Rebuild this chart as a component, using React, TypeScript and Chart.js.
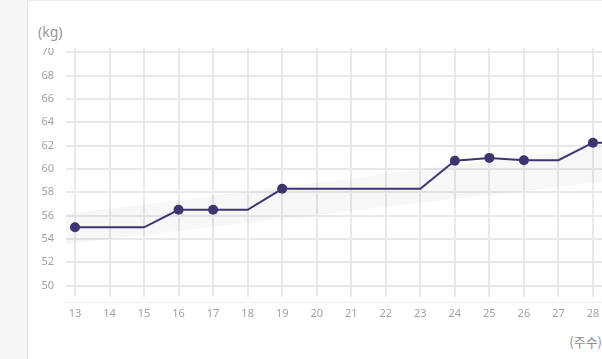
import { useEffect, useRef } from "react";
import { Chart, registerables } from "chart.js";

Chart.register(...registerables);

// Weekly weight record (kg); weeks without a measurement carry the last value forward
const weeks = [13, 14, 15, 16, 17, 18, 19, 20, 21, 22, 23, 24, 25, 26, 27, 28, 29];
const weights = [55.0, 55.0, 55.0, 56.5, 56.5, 56.5, 58.3, 58.3, 58.3, 58.3, 58.3, 60.7, 60.95, 60.75, 60.75, 62.25, 62.25];
const measured = [true, false, false, true, true, false, true, false, false, false, false, true, true, true, false, true, false];

// Recommended range band
const bandWeeks = [12, 30];
const bandUpper = [55.84, 62.56];
const bandLower = [53.31, 59.5];

// Tick labels
const xTicks = [13, 14, 15, 16, 17, 18, 19, 20, 21, 22, 23, 24, 25, 26, 27, 28];
const yTicks = [50, 52, 54, 56, 58, 60, 62, 64, 66, 68, 70];

const LINE_COLOR = "#3d3570";
const GRID_COLOR = "#e9e9ec";
const PAD_TOP = 22;

export default function App() {
  const canvasRef = useRef<HTMLCanvasElement | null>(null);

  useEffect(() => {
    if (!canvasRef.current) return;
    const axisLine = {
      id: "axisLine",
      beforeDatasetsDraw(chart: any) {
        const { ctx, chartArea } = chart;
        ctx.save();
        ctx.strokeStyle = "#efeff1";
        ctx.lineWidth = 1;
        ctx.beginPath();
        ctx.moveTo(chartArea.left - 1, chartArea.bottom + 5.5);
        ctx.lineTo(chartArea.right, chartArea.bottom + 5.5);
        ctx.stroke();
        ctx.restore();
      },
    };
    const chart = new Chart(canvasRef.current, {
      type: "line",
      data: {
        datasets: [
          {
            label: "lower",
            data: bandWeeks.map((w, i) => ({ x: w, y: bandLower[i] })),
            borderWidth: 0,
            pointRadius: 0,
            fill: false,
            order: 2,
          },
          {
            label: "upper",
            data: bandWeeks.map((w, i) => ({ x: w, y: bandUpper[i] })),
            borderWidth: 0,
            pointRadius: 0,
            fill: "-1",
            backgroundColor: "rgba(60,60,80,0.04)",
            order: 1,
          },
          {
            label: "weight",
            data: weeks.map((w, i) => ({ x: w, y: weights[i] })),
            borderColor: LINE_COLOR,
            borderWidth: 2,
            backgroundColor: LINE_COLOR,
            pointBackgroundColor: LINE_COLOR,
            pointBorderWidth: 0,
            pointRadius: measured.map((m) => (m ? 5 : 0)),
            tension: 0,
            fill: false,
            order: 0,
          },
        ],
      },
      options: {
        responsive: false,
        animation: false,
        layout: { padding: { top: PAD_TOP, left: 0, right: 0, bottom: 0 } },
        plugins: { legend: { display: false }, tooltip: { enabled: false } },
        scales: {
          x: {
            type: "linear",
            min: 12.74,
            max: 29.449,
            afterBuildTicks: (axis: any) => {
              axis.ticks = xTicks.map((v) => ({ value: v }));
            },
            afterFit: (scale: any) => {
              scale.height = 30;
            },
            grid: { color: GRID_COLOR, lineWidth: 2, drawTicks: false },
            border: { display: false },
            ticks: {
              padding: 10,
              color: "#a2a2a6",
              font: { family: "'Noto Sans', sans-serif", size: 11 },
              maxRotation: 0,
              autoSkip: false,
            },
          },
          y: {
            type: "linear",
            min: 49.03,
            max: 70.368,
            afterBuildTicks: (axis: any) => {
              axis.ticks = yTicks.map((v) => ({ value: v }));
            },
            afterFit: (scale: any) => {
              scale.width = 38;
            },
            grid: { color: GRID_COLOR, lineWidth: 2, drawTicks: false },
            border: { display: false },
            ticks: {
              padding: 12,
              color: "#a2a2a6",
              font: { family: "'Noto Sans', sans-serif", size: 11 },
            },
          },
        },
      },
      plugins: [axisLine],
    } as any);
    return () => chart.destroy();
  }, []);

  return (
    <div
      style={{
        position: "fixed",
        left: 0,
        top: 0,
        width: 602,
        height: 359,
        overflow: "hidden",
        background: "#f5f6f8",
        fontFamily: "'Noto Sans', 'Noto Sans CJK KR', sans-serif",
      }}
    >
      <div
        style={{
          position: "absolute",
          left: 27,
          top: 0,
          width: 640,
          height: 400,
          background: "#ffffff",
          borderLeft: "1px solid #e4e4e7",
          borderTop: "1px solid #ededef",
        }}
      />
      <div
        style={{
          position: "absolute",
          left: 38,
          top: 22,
          fontSize: 14,
          lineHeight: "20px",
          color: "#97979b",
        }}
      >
        (kg)
      </div>
      <div
        style={{
          position: "absolute",
          left: 28,
          top: 48,
          width: 574,
          height: 311,
          overflow: "hidden",
        }}
      >
        <canvas
          ref={canvasRef}
          width={620}
          height={279 + PAD_TOP}
          style={{ position: "absolute", left: 0, top: -PAD_TOP, width: 620, height: 279 + PAD_TOP }}
        />
      </div>
      <div
        style={{
          position: "absolute",
          right: 0,
          top: 332,
          fontSize: 13,
          lineHeight: "20px",
          color: "#8e8e92",
          fontFamily: "'Noto Sans CJK KR', 'Noto Sans', sans-serif",
          whiteSpace: "nowrap",
        }}
      >
        (주수)
      </div>
    </div>
  );
}
